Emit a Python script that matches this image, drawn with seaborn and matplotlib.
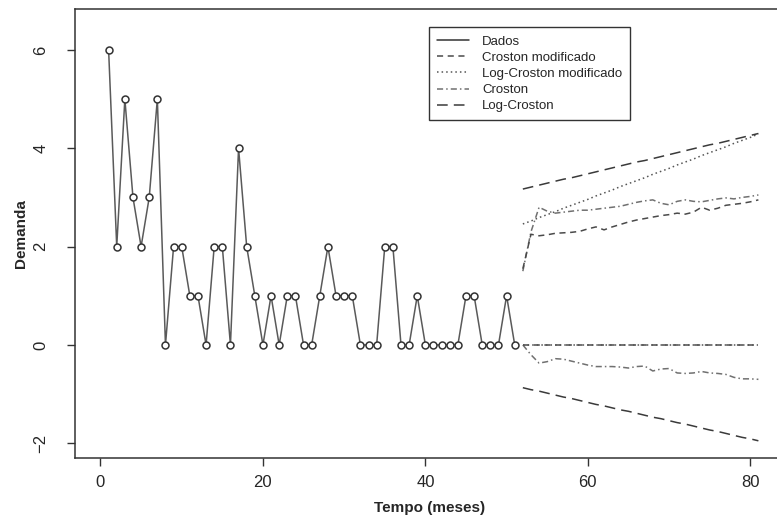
import pandas as pd
import matplotlib.pyplot as plt
import seaborn as sns
from matplotlib.lines import Line2D

# --- Observed demand (months 1..51)
months = list(range(1, 52))
demand = [6, 2, 5, 3, 2, 3, 5, 0, 2, 2, 1, 1, 0, 2, 2, 0, 4, 2, 1, 0,
          1, 0, 1, 1, 0, 0, 1, 2, 1, 1, 1, 0, 0, 0, 2, 2, 0, 0, 1, 0,
          0, 0, 0, 0, 1, 1, 0, 0, 0, 1, 0]

# --- Forecast horizon (months 52..81): interval bounds per method
horizon = list(range(52, 82))

croston_mod_up = [1.55, 2.25, 2.22, 2.24, 2.27, 2.28, 2.29, 2.31, 2.36, 2.40,
                  2.34, 2.40, 2.45, 2.50, 2.54, 2.57, 2.60, 2.63, 2.65, 2.68,
                  2.66, 2.70, 2.80, 2.74, 2.78, 2.84, 2.86, 2.88, 2.91, 2.95]
croston_mod_lo = [0.0] * 30

logcroston_mod_up = [2.46, 2.52, 2.59, 2.65, 2.71, 2.78, 2.84, 2.90, 2.96, 3.03,
                     3.09, 3.15, 3.22, 3.28, 3.34, 3.40, 3.47, 3.53, 3.59, 3.66,
                     3.72, 3.78, 3.85, 3.91, 3.97, 4.03, 4.10, 4.16, 4.22, 4.29]
logcroston_mod_lo = [0.0] * 30

croston_up = [1.50, 2.30, 2.80, 2.72, 2.68, 2.70, 2.72, 2.74, 2.74, 2.76,
              2.78, 2.80, 2.82, 2.86, 2.90, 2.93, 2.95, 2.88, 2.85, 2.92,
              2.95, 2.92, 2.91, 2.94, 2.97, 2.99, 2.97, 3.00, 3.02, 3.05]
croston_lo = [0.00, -0.20, -0.37, -0.34, -0.28, -0.29, -0.33, -0.37, -0.41, -0.44,
              -0.44, -0.44, -0.45, -0.47, -0.44, -0.43, -0.53, -0.49, -0.48, -0.57,
              -0.58, -0.57, -0.54, -0.57, -0.58, -0.60, -0.66, -0.69, -0.69, -0.70]

logcroston_up = [3.17, 3.21, 3.25, 3.29, 3.33, 3.37, 3.40, 3.44, 3.48, 3.52,
                 3.56, 3.60, 3.64, 3.68, 3.72, 3.75, 3.79, 3.83, 3.87, 3.91,
                 3.95, 3.99, 4.03, 4.07, 4.10, 4.14, 4.18, 4.22, 4.26, 4.30]
logcroston_lo = [-0.87, -0.91, -0.94, -0.98, -1.02, -1.06, -1.09, -1.13, -1.17, -1.21,
                 -1.24, -1.28, -1.32, -1.35, -1.39, -1.43, -1.47, -1.50, -1.54, -1.58,
                 -1.61, -1.65, -1.69, -1.73, -1.76, -1.80, -1.84, -1.88, -1.91, -1.95]

legend_labels = ['Dados', 'Croston modificado', 'Log-Croston modificado',
                 'Croston', 'Log-Croston']

sns.set_style('ticks')
plt.rcParams['font.family'] = ['Liberation Sans', 'DejaVu Sans']

fig = plt.figure(figsize=(7.77, 5.25), dpi=100)
ax = fig.add_axes([0.0965, 0.1276, 0.913, 0.856])

# --- styles for each method
styles = {
    'Croston modificado': dict(color='#4a4a4a', ls=(0, (4, 3))),
    'Log-Croston modificado': dict(color='#555555', ls=(0, (1, 2))),
    'Croston': dict(color='#707070', ls=(0, (4, 2, 1, 2))),
    'Log-Croston': dict(color='#3a3a3a', ls=(0, (7, 4))),
}

series = [
    ('Croston', croston_up), ('Croston', croston_lo),
    ('Croston modificado', croston_mod_up), ('Croston modificado', croston_mod_lo),
    ('Log-Croston modificado', logcroston_mod_up), ('Log-Croston modificado', logcroston_mod_lo),
    ('Log-Croston', logcroston_up), ('Log-Croston', logcroston_lo),
]
for name, vals in series:
    st = styles[name]
    sns.lineplot(x=horizon, y=vals, ax=ax, color=st['color'], linestyle=st['ls'],
                 linewidth=1.1)

# --- observed data
sns.lineplot(x=months, y=demand, ax=ax, color='#5a5a5a', linewidth=1.1,
             marker='o', markersize=5, markerfacecolor='white',
             markeredgecolor='#333333', markeredgewidth=1.1)

ax.set_xlim(-3.14, 84.2)
ax.set_ylim(-2.3, 6.84)
ax.set_xticks([0, 20, 40, 60, 80])
ax.set_yticks([-2, 0, 2, 4, 6])
ax.tick_params(axis='both', labelsize=12, length=6, width=1, color='#333333')
ax.tick_params(axis='x', pad=6)
ax.tick_params(axis='y', pad=13)
for lbl in ax.get_yticklabels():
    lbl.set_rotation(90)
    lbl.set_va('center')
for sp in ax.spines.values():
    sp.set_color('#333333')
    sp.set_linewidth(1.1)

ax.set_xlabel('Tempo (meses)', fontsize=11, fontweight='bold', labelpad=8)
ax.set_ylabel('Demanda', fontsize=11, fontweight='bold', labelpad=4)

handles = [Line2D([], [], color='#333333', lw=1.1)]
for name in legend_labels[1:]:
    st = styles[name]
    handles.append(Line2D([], [], color=st['color'], ls=st['ls'], lw=1.1))
leg = ax.legend(handles, legend_labels, loc='upper left',
                bbox_to_anchor=(0.4997, 0.958), fontsize=9.5, frameon=True,
                fancybox=False, framealpha=1, edgecolor='#333333',
                handlelength=2.4, handletextpad=1.0, labelspacing=0.3,
                borderpad=0.6, borderaxespad=0)
leg.get_frame().set_linewidth(1.0)

fig.savefig('out.png', dpi=100)
